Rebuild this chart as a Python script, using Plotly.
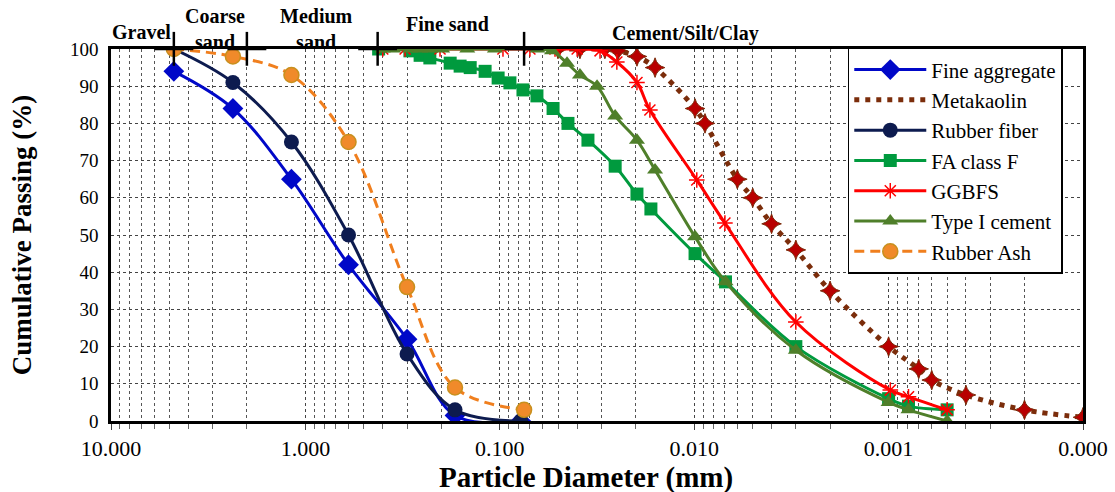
import math
import plotly.graph_objects as go

# ---------------- data ----------------
fine_agg_d = [4.75, 2.36, 1.18, 0.6, 0.3, 0.17, 0.078]
fine_agg_p = [94, 84, 65, 42, 22, 1.5, 0]

rubber_fiber_d = [4.75, 2.36, 1.18, 0.6, 0.3, 0.17, 0.078]
rubber_fiber_p = [100, 91, 75, 50, 18, 3, 0]

rubber_ash_d = [4.75, 2.36, 1.18, 0.6, 0.3, 0.17, 0.075]
rubber_ash_p = [100, 98, 93, 75, 36, 9, 3]

fa_d = [0.42, 0.29, 0.257, 0.229, 0.18, 0.16, 0.142, 0.119, 0.102, 0.0887, 0.076, 0.0644,
        0.0532, 0.0446, 0.0352, 0.0255, 0.0197, 0.0167, 0.0099, 0.0069, 0.003, 0.001,
        0.00079, 0.0005]
fa_p = [100, 99.5, 98.3, 97.6, 96.2, 95.4, 95, 94, 92.2, 90.9, 89, 87.4,
        84, 80, 75.5, 68.5, 61, 57, 45, 37.4, 20, 6,
        4, 3]

cement_d = [0.4, 0.354, 0.289, 0.257, 0.229, 0.198, 0.147, 0.106, 0.064, 0.0539, 0.0451,
            0.0387, 0.0316, 0.0255, 0.0197, 0.0159, 0.0099, 0.0069, 0.003, 0.001, 0.00079,
            0.0005]
cement_p = [100, 100, 100, 100, 100, 100, 100, 100, 100, 99.5, 96.2,
            93, 90, 82, 75.5, 67.5, 49.5, 37.4, 19, 5, 3,
            0]

ggbfs_d = [0.4, 0.307, 0.203, 0.0963, 0.07, 0.052, 0.04, 0.0305, 0.025, 0.0197, 0.0169,
           0.0097, 0.00695, 0.003, 0.00098, 0.00079, 0.0005]
ggbfs_p = [100, 100, 100, 100, 100, 100, 100, 99.5, 96.5, 91, 83.6,
           64.8, 53.2, 26.6, 8.3, 6.5, 3]

meta_d = [0.0502, 0.0387, 0.0288, 0.0247, 0.0197, 0.0159, 0.0099, 0.0088, 0.006, 0.005,
          0.004, 0.003, 0.002, 0.001, 0.0007, 0.0006, 0.0004, 0.0002, 0.0001]
meta_p = [100, 100, 100, 99.5, 98, 95, 84, 80, 65, 60,
          53, 46, 35, 20, 14, 11, 7, 3, 1]

x_tick_vals = [10, 1, 0.1, 0.01, 0.001, 0.0001]
x_tick_text = ["10.000", "1.000", "0.100", "0.010", "0.001", "0.000"]
y_tick_vals = [0, 10, 20, 30, 40, 50, 60, 70, 80, 90, 100]

# soil-class boundaries (mm) and their labels
class_bounds = [4.75, 2.0, 0.425, 0.075]
class_labels = ["Gravel", "Coarse<br>sand", "Medium<br>sand", "Fine sand", "Cement/Silt/Clay"]
class_label_pos = [7.0, 2.92, 0.88, 0.185, 0.0111]
class_label_y = [1.046, 1.053, 1.053, 1.066, 1.043]

SERIF = "Liberation Serif, Times New Roman, serif"

fig = go.Figure()

fig.add_trace(go.Scatter(
    x=fine_agg_d, y=fine_agg_p, name="Fine aggregate", mode="lines+markers",
    line=dict(color="#0008C8", width=3, shape="spline"),
    marker=dict(symbol="diamond", size=16, color="#0008C8")))

fig.add_trace(go.Scatter(
    x=meta_d, y=meta_p, name="Metakaolin", mode="lines",
    line=dict(color="#7B2D0B", width=5, dash="5px,6px", shape="spline")))
fig.add_trace(go.Scatter(
    x=meta_d, y=meta_p, name="Metakaolin", mode="markers", showlegend=False,
    marker=dict(symbol="star-diamond", size=14, color="#B80000",
                line=dict(color="#7B2D0B", width=1))))

fig.add_trace(go.Scatter(
    x=rubber_fiber_d, y=rubber_fiber_p, name="Rubber fiber", mode="lines+markers",
    line=dict(color="#0D1B4F", width=3, shape="spline"),
    marker=dict(symbol="circle", size=15, color="#0D1B4F")))

fig.add_trace(go.Scatter(
    x=fa_d, y=fa_p, name="FA class F", mode="lines+markers",
    line=dict(color="#009A3E", width=3, shape="spline"),
    marker=dict(symbol="square", size=13, color="#009A3E")))

fig.add_trace(go.Scatter(
    x=ggbfs_d, y=ggbfs_p, name="GGBFS", mode="lines+markers",
    line=dict(color="#FF0000", width=3, shape="spline"),
    marker=dict(symbol="asterisk-open", size=13, color="#FF0000",
                line=dict(color="#FF0000", width=1.5))))

fig.add_trace(go.Scatter(
    x=cement_d, y=cement_p, name="Type I cement", mode="lines+markers",
    line=dict(color="#4F7F2A", width=3, shape="spline"),
    marker=dict(symbol="triangle-up", size=14, color="#4F7F2A")))

fig.add_trace(go.Scatter(
    x=rubber_ash_d, y=rubber_ash_p, name="Rubber Ash", mode="lines+markers",
    line=dict(color="#F07F1E", width=3, dash="10px,6px", shape="spline"),
    marker=dict(symbol="circle", size=15, color="#F08A2A",
                line=dict(color="#C8901E", width=1.5))))

# boundary markers at the top (shape x values are data values on the log axis)
shapes = []
for b in class_bounds:
    shapes.append(dict(type="line", xref="x", yref="paper", x0=b, x1=b,
                       y0=0.955, y1=1.046, line=dict(color="black", width=2.5), layer="above"))
    shapes.append(dict(type="line", xref="x", yref="paper", x0=b * 10 ** 0.1, x1=b / 10 ** 0.1,
                       y0=1.0, y1=1.0, line=dict(color="black", width=2.5), layer="above"))

annotations = []
for lab, xp, yp in zip(class_labels, class_label_pos, class_label_y):
    annotations.append(dict(text="<b>" + lab + "</b>", x=math.log10(xp), y=yp,
                            xref="x", yref="paper", showarrow=False,
                            font=dict(family=SERIF, size=20, color="black"),
                            xanchor="center", yanchor="middle"))
# x-axis title
annotations.append(dict(text="<b>Particle Diameter (mm)</b>", x=0.489, y=-0.153,
                        xref="paper", yref="paper", showarrow=False,
                        font=dict(family=SERIF, size=29, color="black"),
                        xanchor="center", yanchor="middle"))

minor_vals = [k * 10 ** e for e in range(-4, 1) for k in range(2, 10)]

fig.update_layout(
    width=1115, height=492,
    margin=dict(l=111, r=32, t=49, b=71, autoexpand=False),
    paper_bgcolor="white", plot_bgcolor="white",
    font=dict(family=SERIF, color="black"),
    shapes=shapes, annotations=annotations,
    legend=dict(x=0.758, y=1.003, xanchor="left", yanchor="top",
                bgcolor="white", bordercolor="black", borderwidth=1.5,
                font=dict(family=SERIF, size=21, color="black"),
                itemwidth=72, tracegroupgap=0),
    xaxis=dict(type="log", range=[1, -4], tickmode="array",
               tickvals=x_tick_vals, ticktext=x_tick_text,
               tickfont=dict(family=SERIF, size=22),
               showgrid=True, gridcolor="#444444", griddash="dot", gridwidth=1,
               showline=True, linecolor="black", linewidth=2.5, mirror=True,
               ticks="outside", ticklen=6, tickcolor="#444444",
               minor=dict(tickmode="array", tickvals=minor_vals, showgrid=True,
                          gridcolor="#555555", griddash="dot", gridwidth=1,
                          ticks="outside", ticklen=5, tickcolor="#666666"),
               zeroline=False),
    yaxis=dict(range=[0, 100], tickmode="array", tickvals=y_tick_vals,
               tickfont=dict(family=SERIF, size=19),
               showgrid=True, gridcolor="#444444", griddash="dot", gridwidth=1,
               showline=True, linecolor="black", linewidth=2.5, mirror=True,
               ticks="", ticklabelstandoff=6,
               title=dict(text="<b>Cumulative Passing (%)</b>",
                          font=dict(family=SERIF, size=27), standoff=31),
               zeroline=False),
)

fig.write_html("out.html")
